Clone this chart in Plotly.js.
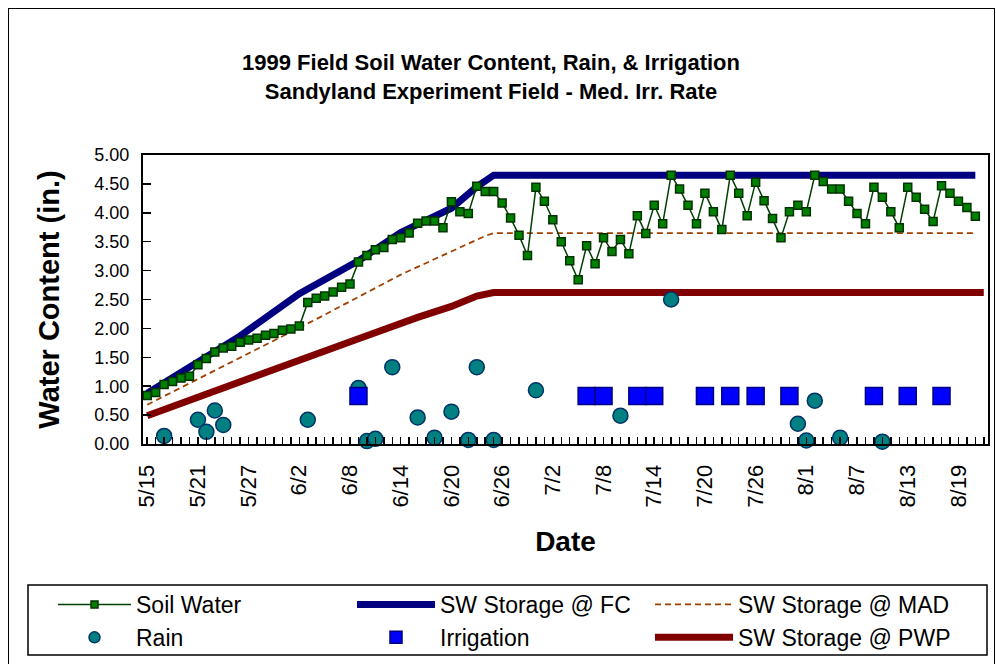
<!DOCTYPE html>
<html><head><meta charset="utf-8">
<script src="https://cdn.plot.ly/plotly-3.0.1.min.js"></script>
<style>
html,body{margin:0;padding:0;overflow:hidden;background:#fff}
#chart{width:996px;height:664px}
#frame{position:absolute;left:8px;top:8px;width:985px;height:700px;border:1.5px solid #000;pointer-events:none}
</style></head><body>
<div id="chart"></div><div id="frame"></div>
<script>
// ---------- data ----------
const swStart = '1999-05-15';
const soilWater = [0.84,0.89,1.03,1.08,1.14,1.17,1.37,1.48,1.59,1.66,1.69,1.76,1.80,1.83,1.88,1.91,1.97,1.99,2.04,2.45,
  2.52,2.56,2.63,2.71,2.77,3.15,3.26,3.36,3.40,3.54,3.57,3.65,3.82,3.86,3.86,3.74,
  4.19,4.02,3.99,4.46,4.37,4.37,4.17,3.91,
  3.61,3.26,4.44,4.20,3.88,3.50,3.17,2.84,3.43,3.12,3.57,3.33,3.54,3.29,
  3.95,3.64,4.13,3.81,4.65,4.41,4.13,3.81,4.34,4.02,3.71,4.65,4.34,3.95,
  4.53,4.21,3.90,3.57,4.02,4.13,4.02,4.65,4.54,4.41,4.41,4.20,3.99,3.81,
  4.44,4.27,4.02,3.74,4.44,4.27,4.06,3.85,4.47,4.34,4.20,4.09,3.94];

const fcDates = ['1999-05-15','1999-05-20','1999-05-26','1999-06-02','1999-06-09','1999-06-14','1999-06-20','1999-06-23','1999-06-25','1999-08-21'];
const fcVals  = [0.88,1.34,1.87,2.60,3.17,3.66,4.08,4.45,4.65,4.65];

const madDates = ['1999-05-15','1999-06-04','1999-06-14','1999-06-24','1999-06-25','1999-08-21'];
const madVals  = [0.68,2.16,2.93,3.60,3.65,3.65];

const pwpDates = ['1999-05-15','1999-06-03','1999-06-09','1999-06-16','1999-06-20','1999-06-23','1999-06-25','1999-08-22'];
const pwpVals  = [0.49,1.52,1.82,2.19,2.38,2.56,2.62,2.62];

const rainDates = ['1999-05-17','1999-05-21','1999-05-22','1999-05-23','1999-05-24','1999-06-03','1999-06-09','1999-06-10',
  '1999-06-11','1999-06-13','1999-06-16','1999-06-18','1999-06-20','1999-06-22','1999-06-23','1999-06-25','1999-06-30',
  '1999-07-10','1999-07-16','1999-07-31','1999-08-01','1999-08-02','1999-08-05','1999-08-10'];
const rainVals = [0.14,0.42,0.21,0.58,0.33,0.42,0.97,0.05,0.09,1.33,0.46,0.11,0.56,0.07,1.33,0.07,0.93,
  0.49,2.50,0.35,0.06,0.75,0.11,0.04];

const irrDates = ['1999-06-09','1999-07-06','1999-07-08','1999-07-12','1999-07-14','1999-07-20','1999-07-23','1999-07-26',
  '1999-07-30','1999-08-09','1999-08-13','1999-08-17'];
const irrVals = [0.83,0.83,0.83,0.83,0.83,0.83,0.83,0.83,0.83,0.83,0.83,0.83];

const xTickDates = ['1999-05-15','1999-05-21','1999-05-27','1999-06-02','1999-06-08','1999-06-14','1999-06-20','1999-06-26',
  '1999-07-02','1999-07-08','1999-07-14','1999-07-20','1999-07-26','1999-08-01','1999-08-07','1999-08-13','1999-08-19'];
const xTickLabels = ['5/15','5/21','5/27','6/2','6/8','6/14','6/20','6/26','7/2','7/8','7/14','7/20','7/26','8/1','8/7','8/13','8/19'];
const yTickVals = [0,0.5,1,1.5,2,2.5,3,3.5,4,4.5,5];
const yTickLabels = ['0.00','0.50','1.00','1.50','2.00','2.50','3.00','3.50','4.00','4.50','5.00'];

// consecutive daily dates for the soil water series
const swDates = soilWater.map((_, i) => {
  const d = new Date(swStart + 'T00:00:00Z'); d.setUTCDate(d.getUTCDate() + i);
  return d.toISOString().slice(0, 10);
});

// ---------- layout helpers ----------
const M = {l:143, r:8, t:155, b:220, autoexpand:false};
const W = 996, H = 664, PW = W - M.l - M.r, PH = H - M.t - M.b;
const px = x => (x - M.l) / PW;
const py = y => (H - M.b - y) / PH;
const FONT = 'Liberation Sans, Arial, sans-serif';

const swMarker = {symbol:'square', size:8, color:'#008000', line:{color:'#003300', width:1.5}};
const rainMarker = {symbol:'circle', size:15, color:'#008080', line:{color:'#003366', width:1.5}};
const irrMarker = {symbol:'square', size:17, color:'#0000FF', line:{color:'#000080', width:1.5}};
const fcLine = {color:'#000080', width:7};
const madLine = {color:'#A04000', width:1.8, dash:'6px,4px'};
const pwpLine = {color:'#800000', width:7};
const swLine = {color:'#004000', width:1.5};

const traces = [
  {x:fcDates, y:fcVals, mode:'lines', line:fcLine, showlegend:false},
  {x:madDates, y:madVals, mode:'lines', line:madLine, showlegend:false},
  {x:pwpDates, y:pwpVals, mode:'lines', line:pwpLine, showlegend:false},
  {x:swDates, y:soilWater, mode:'lines+markers', line:swLine, marker:swMarker, showlegend:false},
  {x:rainDates, y:rainVals, mode:'markers', marker:rainMarker, showlegend:false, cliponaxis:false},
  {x:irrDates, y:irrVals, mode:'markers', marker:irrMarker, showlegend:false},
  // legend entries
  {x:[null], y:[null], name:'Soil Water', mode:'lines+markers', line:swLine, marker:Object.assign({}, swMarker, {size:7}), legend:'legend', legendgroup:'a'},
  {x:[null], y:[null], name:'Rain', mode:'markers', marker:Object.assign({}, rainMarker, {size:11}), legend:'legend', legendgroup:'b'},
  {x:[null], y:[null], name:'SW Storage @ FC', mode:'lines', line:fcLine, legend:'legend2', legendgroup:'c'},
  {x:[null], y:[null], name:'Irrigation', mode:'markers', marker:Object.assign({}, irrMarker, {size:12}), legend:'legend2', legendgroup:'d'},
  {x:[null], y:[null], name:'SW Storage @ MAD', mode:'lines', line:madLine, legend:'legend3', legendgroup:'e'},
  {x:[null], y:[null], name:'SW Storage @ PWP', mode:'lines', line:pwpLine, legend:'legend3', legendgroup:'f'}
];

const legBase = {orientation:'v', xanchor:'left', yanchor:'top', bgcolor:'rgba(0,0,0,0)', borderwidth:0,
  tracegroupgap:0, font:{family:FONT, size:23, color:'#000'}};

const layout = {
  width:W, height:H, margin:M, paper_bgcolor:'#fff', plot_bgcolor:'#fff',
  font:{family:FONT, color:'#000'},
  title:{text:'<b>1999 Field Soil Water Content, Rain, & Irrigation</b><br><b>Sandyland Experiment Field - Med. Irr. Rate</b>',
    xref:'container', x:491/W, xanchor:'center', yref:'container', y:1 - 70/H, yanchor:'middle',
    font:{family:FONT, size:22, color:'#000'}},
  xaxis:{type:'date', range:['1999-05-14 12:00','1999-08-22 12:00'], tickmode:'array', tickvals:xTickDates, ticktext:xTickLabels,
    tickangle:-90, ticks:'inside', ticklen:7, tickwidth:1.5, tickcolor:'#000', ticklabelstandoff:10,
    minor:{tickmode:'linear', tick0:'1999-05-15', dtick:86400000, ticks:'inside', ticklen:7, tickwidth:1.5, tickcolor:'#000', showgrid:false},
    showline:true, linewidth:2, linecolor:'#000', mirror:true, showgrid:false, zeroline:false,
    tickfont:{family:FONT, size:22, color:'#000'},
    title:{text:'<b>Date</b>', font:{family:FONT, size:28, color:'#000'}, standoff:25}, automargin:false},
  yaxis:{range:[0,5], tickmode:'array', tickvals:yTickVals, ticktext:yTickLabels, ticks:'inside', ticklen:8, tickwidth:1.5, tickcolor:'#000',
    ticklabelstandoff:8, showline:true, linewidth:2, linecolor:'#000', mirror:true, showgrid:false, zeroline:false,
    tickfont:{family:FONT, size:18, color:'#000'},
    title:{text:'<b>Water Content (in.)</b>', font:{family:FONT, size:29, color:'#000'}, standoff:26}, automargin:false},
  legend:Object.assign({}, legBase, {x:px(53), y:py(583), itemwidth:73}),
  legend2:Object.assign({}, legBase, {x:px(352), y:py(583), itemwidth:78}),
  legend3:Object.assign({}, legBase, {x:px(650), y:py(583), itemwidth:78}),
  shapes:[{type:'rect', xref:'paper', yref:'paper', x0:px(28), x1:px(987), y0:py(655), y1:py(585),
    line:{color:'#000', width:1.5}, fillcolor:'rgba(0,0,0,0)'}],
  showlegend:true
};

Plotly.newPlot('chart', traces, layout, {staticPlot:true, displayModeBar:false});
</script>
</body></html>
